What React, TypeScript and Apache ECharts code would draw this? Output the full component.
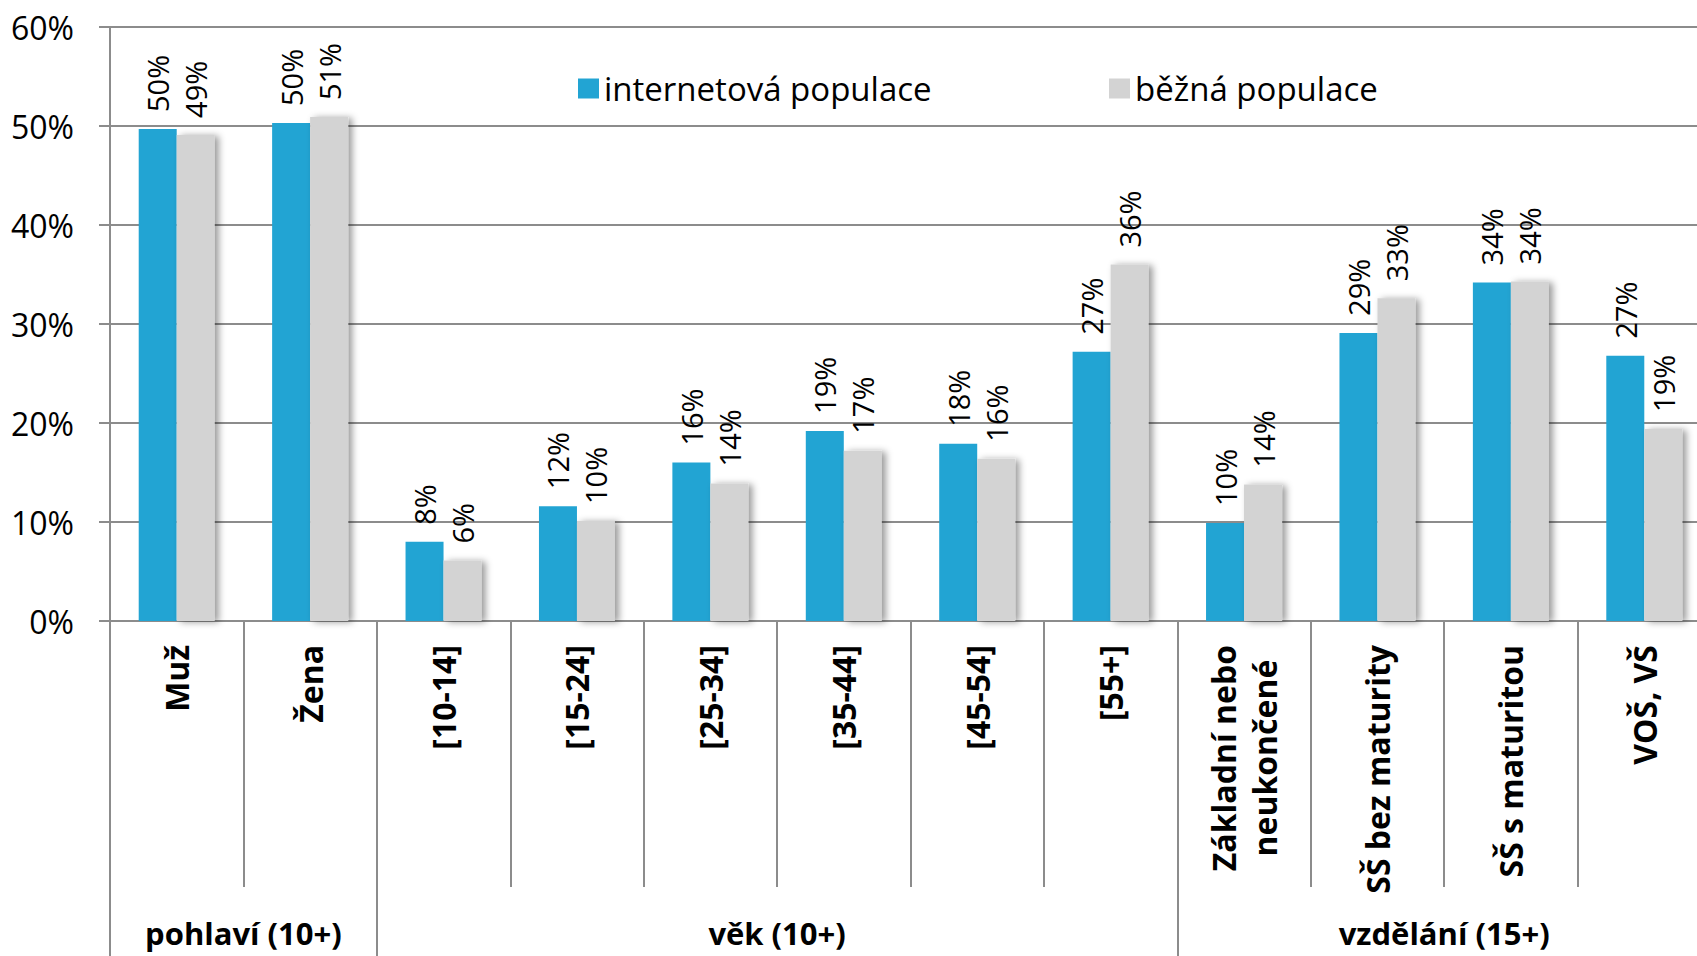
import React, { useEffect, useRef } from "react";
import * as echarts from "echarts";

const categories = [
  "Muž",
  "Žena",
  "[10-14]",
  "[15-24]",
  "[25-34]",
  "[35-44]",
  "[45-54]",
  "[55+]",
  "Základní nebo\nneukončené",
  "SŠ bez maturity",
  "SŠ s maturitou",
  "VOŠ, VŠ",
];

const internetPop = [49.7, 50.3, 8.0, 11.6, 16.0, 19.2, 17.9, 27.2, 9.9, 29.1, 34.2, 26.8];
const commonPop = [49.1, 50.9, 6.1, 10.1, 13.9, 17.2, 16.4, 36.0, 13.8, 32.6, 34.3, 19.4];

const seriesNames = ["internetová populace", "běžná populace"];

// group labels placed at category boundaries 0..12 (centre of each group)
const groupLabelsAtBoundary = [
  "", "pohlaví (10+)", "", "", "", "věk (10+)", "", "", "", "", "vzdělání (15+)", "", "",
];
const groupDividerBoundaries = [0, 2, 8];

const yTicks = [0, 10, 20, 30, 40, 50, 60];

const FONT = "'Open Sans', 'DejaVu Sans', sans-serif";
const GRID_COLOR = "#8c8c8c";

export default function App() {
  const ref = useRef<HTMLDivElement>(null);

  useEffect(() => {
    if (!ref.current) return;
    const chart = echarts.init(ref.current, undefined, { renderer: "svg" });
    const boundaryIds = groupLabelsAtBoundary.map((_, i) => "b" + i);

    const labelStyle = {
      show: true,
      position: "top",
      rotate: 90,
      align: "left",
      verticalAlign: "middle",
      distance: 17,
      fontSize: 29,
      fontFamily: FONT,
      color: "#000",
      formatter: (p: any) => Math.round(p.value) + "%",
    };

    const legendText = { fontSize: 33, fontFamily: FONT, color: "#000" };

    chart.setOption({
      animation: false,
      backgroundColor: "#fff",
      grid: {
        left: 110,
        top: 27,
        width: 1601,
        height: 594,
        containLabel: false,
        outerBoundsMode: "none",
      },
      legend: [
        {
          data: [seriesNames[0]],
          left: 573,
          top: 67,
          itemWidth: 21,
          itemHeight: 20,
          itemGap: 10,
          icon: "rect",
          textStyle: legendText,
        },
        {
          data: [seriesNames[1]],
          left: 1104,
          top: 67,
          itemWidth: 21,
          itemHeight: 20,
          itemGap: 10,
          icon: "rect",
          textStyle: legendText,
        },
      ],
      xAxis: [
        {
          type: "category",
          data: categories,
          boundaryGap: true,
          axisLine: { show: true, lineStyle: { color: GRID_COLOR, width: 2 } },
          axisTick: {
            show: true,
            interval: 0,
            length: 266,
            lineStyle: { color: GRID_COLOR, width: 2 },
          },
          axisLabel: {
            interval: 0,
            rotate: 90,
            margin: 24,
            formatter: (v: string) =>
              v
                .split("\n")
                .map((s) => "{c|" + s + "}")
                .join("\n"),
            rich: {
              c: {
                fontFamily: FONT,
                fontSize: 32,
                fontWeight: "bold",
                color: "#000",
                align: "center",
                lineHeight: 41,
              },
            },
          },
          splitLine: { show: false },
        },
        {
          type: "category",
          data: boundaryIds,
          boundaryGap: false,
          position: "bottom",
          axisLine: { show: false },
          axisTick: {
            show: true,
            interval: (i: number) => groupDividerBoundaries.indexOf(i) >= 0,
            length: 340,
            lineStyle: { color: GRID_COLOR, width: 2 },
          },
          axisLabel: {
            interval: 0,
            margin: 296,
            fontFamily: FONT,
            fontSize: 31,
            fontWeight: "bold",
            color: "#000",
            formatter: (_v: string, i: number) => groupLabelsAtBoundary[i],
          },
          splitLine: { show: false },
        },
      ],
      yAxis: {
        type: "value",
        min: yTicks[0],
        max: yTicks[yTicks.length - 1],
        interval: 10,
        axisLine: { show: true, lineStyle: { color: GRID_COLOR, width: 2 } },
        axisTick: { show: true, length: 11, lineStyle: { color: GRID_COLOR, width: 2 } },
        axisLabel: {
          margin: 36,
          fontSize: 32,
          fontFamily: FONT,
          color: "#000",
          formatter: "{value}%",
        },
        splitLine: { show: true, lineStyle: { color: GRID_COLOR, width: 2 } },
      },
      series: [
        {
          name: seriesNames[0],
          type: "bar",
          xAxisIndex: 0,
          data: internetPop,
          barWidth: 38,
          barGap: "0%",
          itemStyle: { color: "#22A4D3" },
          label: labelStyle,
        },
        {
          name: seriesNames[1],
          type: "bar",
          xAxisIndex: 0,
          data: commonPop,
          barWidth: 38,
          barGap: "0%",
          itemStyle: {
            color: "#D3D3D3",
            shadowColor: "rgba(0,0,0,0.4)",
            shadowBlur: 7,
            shadowOffsetX: 4,
            shadowOffsetY: 1,
          },
          label: labelStyle,
        },
      ],
    });

    return () => chart.dispose();
  }, []);

  return (
    <div
      ref={ref}
      style={{ position: "absolute", left: 0, top: 0, width: 1697, height: 956 }}
    />
  );
}
